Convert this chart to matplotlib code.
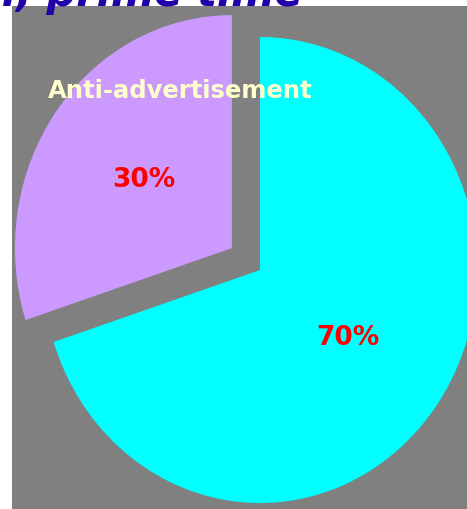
import matplotlib.pyplot as plt
from matplotlib.patches import Rectangle

# slice data
labels = ["", "Anti-advertisement"]
shares = [70, 30]
colors = ["#00ffff", "#cc99ff"]
explode = [0, 0.16]
title_text = "Viewer, prime time"

W, H = 467, 509
fig = plt.figure(figsize=(W / 100, H / 100), dpi=100)
fig.patch.set_facecolor("white")

# gray plot area; the pie is drawn slightly squashed (217 px wide, 233 px tall radius)
# axes run a little past the right and bottom edges so the canvas crops them
cx, cy, rx, ry = 260, 270, 217, 233
left, top, pad = 12, 6, 10
fig.patches.append(Rectangle((left / W, -0.01), 1.0, 1.01 - top / H,
                             transform=fig.transFigure, facecolor="#808080",
                             edgecolor="none", zorder=-1))
ax = fig.add_axes([left / W, -pad / H, (W + pad - left) / W, (H + pad - top) / H])
ax.pie(shares, colors=colors, explode=explode, startangle=90, counterclock=False,
       autopct="%1.0f%%", pctdistance=0.5, frame=True,
       wedgeprops=dict(linewidth=0),
       textprops=dict(color="red", fontsize=19, fontweight="bold"))
ax.set_xlim((left - cx) / rx, (W + pad - cx) / rx)
ax.set_ylim(-(H + pad - cy) / ry, (cy - top) / ry)
ax.set_aspect("auto")
ax.set_facecolor("#808080")
ax.set_xticks([])
ax.set_yticks([])
for s in ax.spines.values():
    s.set_visible(False)

ax.text(-0.369, 0.768, labels[1], color="#ffffcc", fontsize=17.5,
        fontweight="bold", ha="center", va="center")

# title, mostly cut off at the top of the canvas
fig.text(303 / W, 1 - 6 / H, title_text, color="#2200aa", fontsize=30,
         fontweight="bold", fontstyle="italic", ha="right", va="baseline")

fig.savefig("out.png", dpi=100)
